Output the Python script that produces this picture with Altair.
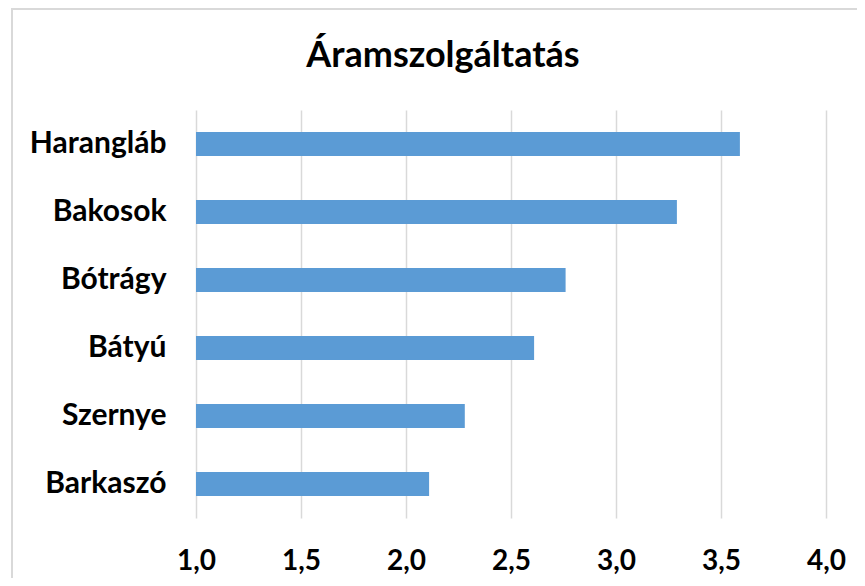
import altair as alt
import pandas as pd

# Data
categories = ["Harangláb", "Bakosok", "Bótrágy", "Bátyú", "Szernye", "Barkaszó"]
values = [3.59, 3.29, 2.76, 2.61, 2.28, 2.11]
x_ticks = [1.0, 1.5, 2.0, 2.5, 3.0, 3.5, 4.0]
title_text = "Áramszolgáltatás"

df = pd.DataFrame({"telepules": categories, "ertek": values})

FONT = "Lato"

bars = alt.Chart(df).mark_bar(color="#5b9bd5").encode(
    y=alt.Y(
        "telepules:N",
        sort=categories,
        title=None,
        scale=alt.Scale(paddingInner=0.647, paddingOuter=0.3235),
        axis=alt.Axis(
            ticks=False,
            domain=False,
            grid=False,
            labelFont=FONT,
            labelFontSize=30,
            labelFontWeight="bold",
            labelColor="#000000",
            labelPadding=30,
            labelLimit=300,
        ),
    ),
    x=alt.X(
        "ertek:Q",
        title=None,
        scale=alt.Scale(domain=[1, 4], zero=False, nice=False),
        axis=alt.Axis(
            values=x_ticks,
            labelExpr="replace(format(datum.value, '.1f'), '.', ',')",
            labelFlush=False,
            labelOverlap=False,
            ticks=False,
            domain=False,
            grid=True,
            gridColor="#d9d9d9",
            gridWidth=1.5,
            labelFont=FONT,
            labelFontSize=28,
            labelFontWeight="bold",
            labelColor="#000000",
            labelPadding=29,
        ),
    ),
    x2=alt.datum(1.0),
)

border = alt.Chart(df).mark_rect(
    fill="transparent", stroke="#d9d9d9", strokeWidth=2
).encode(
    x=alt.value(-184),
    x2=alt.value(700),
    y=alt.value(-101),
    y2=alt.value(520),
)

title = alt.Chart(pd.DataFrame({"t": [title_text]})).mark_text(
    font=FONT,
    fontSize=36,
    fontWeight="bold",
    color="#000000",
    align="center",
    baseline="alphabetic",
).encode(
    text="t:N",
    x=alt.value(247),
    y=alt.value(-43),
)

chart = alt.layer(bars, border, title).properties(
    width=630,
    height=408,
    autosize=alt.AutoSizeParams(type="none"),
    padding={"left": 188, "top": 102, "right": 31, "bottom": 60},
).configure_view(strokeWidth=0)

chart.save("out.html", embed_options={"renderer": "svg", "actions": False})
